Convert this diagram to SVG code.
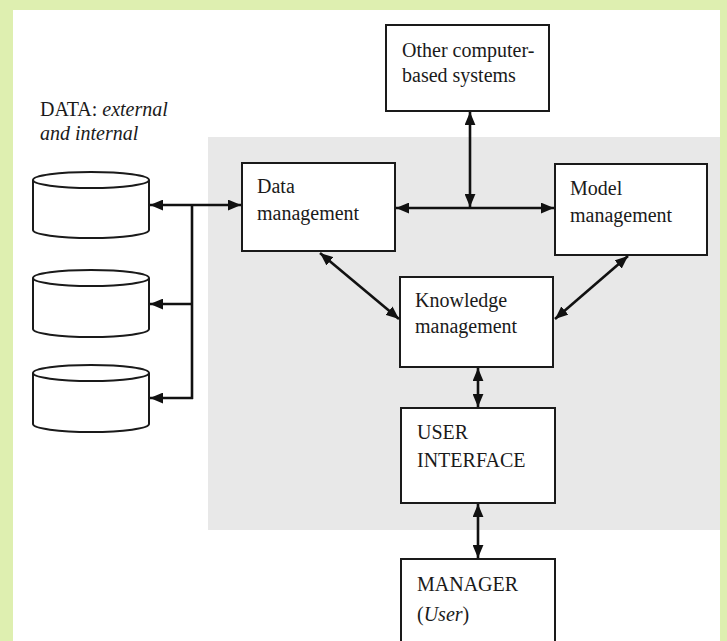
<svg xmlns="http://www.w3.org/2000/svg" width="727" height="641" viewBox="0 0 727 641">
<defs>
<style>
.box{fill:#fff;stroke:#1a1a1a;stroke-width:2}
.cyl{fill:#fff;stroke:#1a1a1a;stroke-width:2}
.t{font-family:"Liberation Serif","Times New Roman",serif;font-size:20px;fill:#1a1a1a}
.it{font-style:italic}
.c{stroke:#111;stroke-width:2.6;fill:none}
</style>
<marker id="ah" viewBox="0 0 12 10" refX="12" refY="5" markerWidth="13" markerHeight="11" markerUnits="userSpaceOnUse" orient="auto-start-reverse">
<path d="M0,0 L12,5 L0,10 Z" fill="#111"/>
</marker>
</defs>
<rect x="0" y="0" width="727" height="641" fill="#deefb0"/>
<rect x="13" y="10" width="707" height="631" fill="#fff"/>
<rect x="208" y="137" width="512" height="393" fill="#e8e8e8"/>

<g id="data-label">
<text class="t" x="40" y="116">DATA: <tspan class="it">external</tspan></text>
<text class="t it" x="40" y="140">and internal</text>
</g>
<g id="cyl1">
<path class="cyl" d="M33,180 V230 A58,8 0 0 0 149,230 V180"/>
<ellipse class="cyl" cx="91" cy="180" rx="58" ry="8"/>
</g>
<g id="cyl2">
<path class="cyl" d="M33,278 V329 A58,8 0 0 0 149,329 V278"/>
<ellipse class="cyl" cx="91" cy="278" rx="58" ry="8"/>
</g>
<g id="cyl3">
<path class="cyl" d="M33,373 V424 A58,8 0 0 0 149,424 V373"/>
<ellipse class="cyl" cx="91" cy="373" rx="58" ry="8"/>
</g>

<g id="other">
<rect class="box" x="386" y="25" width="163" height="86"/>
<text class="t" x="402" y="57">Other computer-</text>
<text class="t" x="402" y="82">based systems</text>
</g>
<g id="data-mgmt">
<rect class="box" x="242" y="163" width="153" height="88"/>
<text class="t" x="257" y="193">Data</text>
<text class="t" x="257" y="220">management</text>
</g>
<g id="model-mgmt">
<rect class="box" x="555" y="164" width="152" height="91"/>
<text class="t" x="570" y="195">Model</text>
<text class="t" x="570" y="222">management</text>
</g>
<g id="knowledge-mgmt">
<rect class="box" x="400" y="277" width="153" height="90"/>
<text class="t" x="415" y="307">Knowledge</text>
<text class="t" x="415" y="333">management</text>
</g>
<g id="user-interface">
<rect class="box" x="401" y="408" width="154" height="95"/>
<text class="t" x="417" y="439">USER</text>
<text class="t" x="417" y="467">INTERFACE</text>
</g>
<g id="manager">
<rect class="box" x="401" y="559" width="154" height="100"/>
<text class="t" x="417" y="591">MANAGER</text>
<text class="t" x="417" y="621">(<tspan class="it">User</tspan>)</text>
</g>

<g id="connectors">
<line class="c" x1="150" y1="205" x2="241" y2="205" marker-start="url(#ah)" marker-end="url(#ah)"/>
<line class="c" x1="192" y1="205" x2="192" y2="399"/>
<line class="c" x1="193" y1="304" x2="150" y2="304" marker-end="url(#ah)"/>
<line class="c" x1="193" y1="398" x2="150" y2="398" marker-end="url(#ah)"/>
<line class="c" x1="396" y1="208" x2="554" y2="208" marker-start="url(#ah)" marker-end="url(#ah)"/>
<line class="c" x1="470" y1="112" x2="470" y2="207" marker-start="url(#ah)" marker-end="url(#ah)"/>
<line class="c" x1="320" y1="253" x2="399" y2="319" marker-start="url(#ah)" marker-end="url(#ah)"/>
<line class="c" x1="628" y1="256" x2="555" y2="319" marker-start="url(#ah)" marker-end="url(#ah)"/>
<line class="c" x1="478" y1="368" x2="478" y2="407" marker-start="url(#ah)" marker-end="url(#ah)"/>
<line class="c" x1="478" y1="504" x2="478" y2="558" marker-start="url(#ah)" marker-end="url(#ah)"/>
</g>
</svg>
